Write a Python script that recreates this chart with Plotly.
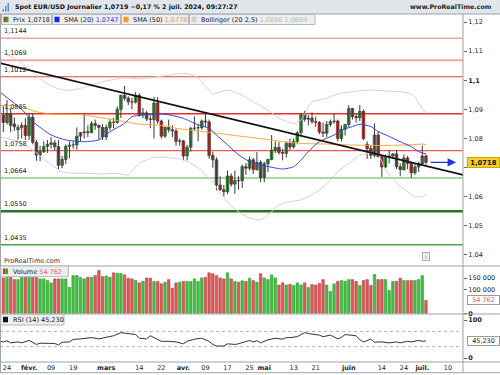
import numpy as np
import pandas as pd
import plotly.graph_objects as go

FONT = "DejaVu Sans"

# ---------------- data ----------------
first_day, last_day = "2024-01-23", "2024-07-02"
ref_day = "2024-01-24"  # trading day 0 of the horizontal scale

opens = [1.0880, 1.0855, 1.0885, 1.0850, 1.0830, 1.0838, 1.0845, 1.0810, 1.0873, 1.0787,
         1.0743, 1.0755, 1.0772, 1.0780, 1.0785, 1.0772, 1.0708, 1.0728, 1.0773, 1.0777,
         1.0778, 1.0808, 1.0820, 1.0823, 1.0820, 1.0851, 1.0845, 1.0838, 1.0805, 1.0838,
         1.0856, 1.0855, 1.0900, 1.0948, 1.0938, 1.0926, 1.0925, 1.0948, 1.0882, 1.0888,
         1.0867, 1.0865, 1.0922, 1.0860, 1.0808, 1.0838, 1.0830, 1.0826, 1.0790, 1.0792,
         1.0740, 1.0770, 1.0835, 1.0836, 1.0837, 1.0860, 1.0857, 1.0742, 1.0727, 1.0640,
         1.0624, 1.0617, 1.0671, 1.0643, 1.0656, 1.0655, 1.0703, 1.0698, 1.0727, 1.0693,
         1.0718, 1.0666, 1.0713, 1.0728, 1.0760, 1.0770, 1.0752, 1.0749, 1.0783, 1.0771,
         1.0790, 1.0820, 1.0881, 1.0866, 1.0870, 1.0858, 1.0855, 1.0822, 1.0818, 1.0848,
         1.0858, 1.0860, 1.0800, 1.0832, 1.0848, 1.0903, 1.0875, 1.0871, 1.0893, 1.0780,
         1.0765, 1.0742, 1.0812, 1.0738, 1.0702, 1.0735, 1.0740, 1.0747, 1.0703, 1.0693,
         1.0733, 1.0714, 1.0682, 1.0702, 1.0713, 1.0740]
highs = [1.0915, 1.0932, 1.0903, 1.0872, 1.0848, 1.0855, 1.0870, 1.0888, 1.0887, 1.0795,
         1.0775, 1.0790, 1.0795, 1.0805, 1.0795, 1.0795, 1.0740, 1.0780, 1.0790, 1.0790,
         1.0838, 1.0822, 1.0888, 1.0845, 1.0860, 1.0865, 1.0848, 1.0850, 1.0848, 1.0868,
         1.0870, 1.0910, 1.0950, 1.0981, 1.0945, 1.0940, 1.0960, 1.0955, 1.0905, 1.0895,
         1.0880, 1.0942, 1.0942, 1.0865, 1.0840, 1.0865, 1.0845, 1.0832, 1.0800, 1.0795,
         1.0778, 1.0840, 1.0876, 1.0850, 1.0865, 1.0885, 1.0865, 1.0755, 1.0735, 1.0670,
         1.0640, 1.0690, 1.0680, 1.0690, 1.0670, 1.0710, 1.0715, 1.0738, 1.0733, 1.0753,
         1.0725, 1.0720, 1.0730, 1.0812, 1.0790, 1.0788, 1.0765, 1.0790, 1.0800, 1.0800,
         1.0825, 1.0888, 1.0895, 1.0880, 1.0890, 1.0875, 1.0860, 1.0855, 1.0860, 1.0865,
         1.0885, 1.0865, 1.0845, 1.0850, 1.0915, 1.0905, 1.0885, 1.0915, 1.0900, 1.0790,
         1.0775, 1.0852, 1.0825, 1.0740, 1.0745, 1.0760, 1.0750, 1.0760, 1.0715, 1.0745,
         1.0740, 1.0720, 1.0715, 1.0720, 1.0776, 1.0745]
lows = [1.0822, 1.0848, 1.0822, 1.0825, 1.0796, 1.0800, 1.0795, 1.0795, 1.0780, 1.0723,
        1.0722, 1.0750, 1.0750, 1.0765, 1.0760, 1.0695, 1.0698, 1.0713, 1.0732, 1.0765,
        1.0762, 1.0790, 1.0800, 1.0805, 1.0818, 1.0830, 1.0795, 1.0795, 1.0795, 1.0828,
        1.0835, 1.0850, 1.0870, 1.0930, 1.0915, 1.0900, 1.0920, 1.0875, 1.0870, 1.0860,
        1.0835, 1.0800, 1.0850, 1.0800, 1.0802, 1.0820, 1.0805, 1.0775, 1.0775, 1.0725,
        1.0725, 1.0755, 1.0825, 1.0790, 1.0830, 1.0840, 1.0730, 1.0700, 1.0622, 1.0620,
        1.0601, 1.0610, 1.0635, 1.0610, 1.0625, 1.0630, 1.0675, 1.0690, 1.0678, 1.0690,
        1.0650, 1.0650, 1.0685, 1.0725, 1.0750, 1.0745, 1.0725, 1.0735, 1.0760, 1.0765,
        1.0780, 1.0808, 1.0858, 1.0845, 1.0850, 1.0840, 1.0815, 1.0805, 1.0805, 1.0840,
        1.0850, 1.0790, 1.0790, 1.0810, 1.0840, 1.0865, 1.0855, 1.0860, 1.0795, 1.0730,
        1.0730, 1.0735, 1.0735, 1.0668, 1.0698, 1.0715, 1.0730, 1.0695, 1.0670, 1.0690,
        1.0695, 1.0665, 1.0675, 1.0685, 1.0710, 1.0710]
closes = [1.0855, 1.0885, 1.0845, 1.0840, 1.0838, 1.0845, 1.0810, 1.0873, 1.0787, 1.0743,
          1.0755, 1.0772, 1.0780, 1.0785, 1.0772, 1.0708, 1.0728, 1.0773, 1.0777, 1.0778,
          1.0808, 1.0820, 1.0823, 1.0820, 1.0851, 1.0845, 1.0838, 1.0805, 1.0838, 1.0856,
          1.0855, 1.0900, 1.0948, 1.0938, 1.0926, 1.0925, 1.0948, 1.0882, 1.0888, 1.0867,
          1.0865, 1.0922, 1.0860, 1.0808, 1.0838, 1.0830, 1.0826, 1.0790, 1.0792, 1.0740,
          1.0770, 1.0835, 1.0836, 1.0837, 1.0860, 1.0857, 1.0742, 1.0727, 1.0640, 1.0624,
          1.0617, 1.0671, 1.0643, 1.0656, 1.0655, 1.0703, 1.0698, 1.0727, 1.0693, 1.0718,
          1.0666, 1.0713, 1.0728, 1.0760, 1.0770, 1.0752, 1.0749, 1.0783, 1.0771, 1.0790,
          1.0820, 1.0881, 1.0866, 1.0870, 1.0858, 1.0855, 1.0822, 1.0818, 1.0848, 1.0858,
          1.0860, 1.0800, 1.0832, 1.0848, 1.0903, 1.0875, 1.0871, 1.0893, 1.0800, 1.0765,
          1.0742, 1.0812, 1.0738, 1.0702, 1.0735, 1.0740, 1.0747, 1.0703, 1.0693, 1.0733,
          1.0714, 1.0682, 1.0702, 1.0713, 1.0740, 1.0718]
volumes_k = [151, 154, 154, 144, 144, 154, 154, 154, 154, 154, 147,
             147, 140, 130, 147, 147, 147, 147, 111, 161, 161,
             154, 147, 154, 154, 161, 183, 157, 159, 154, 173,
             171, 170, 164, 150, 147, 140, 130, 137, 151, 150,
             136, 136, 126, 133, 144, 107, 130, 133, 136, 136,
             136, 147, 136, 151, 154, 173, 169, 161, 151, 147,
             173, 147, 136, 133, 139,
             136, 150, 140,
             133, 169, 151, 144, 164, 151, 121, 130, 121, 124,
             119, 130, 121, 130, 110, 123, 121, 127, 144, 121,
             93, 126, 137, 140, 137, 144, 144, 136, 119, 140,
             144, 119, 166, 144, 144, 144, 97, 136, 137, 150,
             140, 140, 140, 140, 144, 161, 54.762]

# indicator lines (trading day, value)
sma20_day = [-2, 4, 7, 12, 16, 21, 25, 28, 32, 34, 38, 42, 45, 48, 52, 55, 57, 60, 63, 66,
             71, 75, 78, 80, 82, 85, 89, 91, 94, 96, 99, 101, 104, 107, 110, 112, 114]
sma20_val = [1.0960, 1.0900, 1.0858, 1.0812, 1.0795, 1.0789, 1.0795, 1.0823, 1.0852, 1.0875,
             1.0881, 1.0884, 1.0879, 1.0869, 1.0847, 1.0835, 1.0812, 1.0778, 1.0744, 1.0721,
             1.0704, 1.0695, 1.0703, 1.0726, 1.0755, 1.0789, 1.0812, 1.0829, 1.0841, 1.0849,
             1.0841, 1.0824, 1.0807, 1.0789, 1.0772, 1.0755, 1.0747]
sma50_day = [-2, 2, 5, 8, 12, 16, 21, 25, 29, 33, 36, 40, 44, 46, 50, 53, 57, 61, 64, 68,
             72, 75, 79, 82, 87, 90, 96, 101, 107, 111, 113, 114]
sma50_val = [1.0913, 1.0913, 1.0904, 1.0892, 1.0884, 1.0883, 1.0881, 1.0872, 1.0864, 1.0856,
             1.0849, 1.0847, 1.0841, 1.0835, 1.0829, 1.0824, 1.0818, 1.0812, 1.0807, 1.0801,
             1.0795, 1.0789, 1.0784, 1.0782, 1.0781, 1.0779, 1.0777, 1.0776, 1.0777, 1.0779,
             1.0781, 1.0778]
bbu_day = [-2, 2, 6, 10, 13, 16, 20, 24, 28, 32, 36, 40, 44, 48, 50, 52, 55, 56, 60, 63,
           67, 71, 74, 78, 80, 82, 83, 87, 88, 91, 96, 99, 106, 109, 111, 112, 114]
bbu_val = [1.1100, 1.1075, 1.1040, 1.0995, 1.0975, 1.0965, 1.0972, 1.0988, 1.1000, 1.1008,
           1.1005, 1.1010, 1.1018, 1.1024, 1.1020, 1.1007, 1.0966, 1.0953, 1.0966, 1.0955,
           1.0926, 1.0898, 1.0869, 1.0852, 1.0863, 1.0909, 1.0926, 1.0938, 1.0944, 1.0955,
           1.0964, 1.0966, 1.0961, 1.0957, 1.0944, 1.0921, 1.0886]
bbl_day = [-2, 3, 7, 11, 15, 18, 22, 26, 30, 33, 36, 38, 40, 44, 48, 52, 56, 58, 61, 64,
           66, 69, 71, 74, 77, 80, 82, 85, 88, 90, 93, 96, 99, 101, 103, 106, 109, 111, 113, 114]
bbl_val = [1.0805, 1.0790, 1.0760, 1.0720, 1.0685, 1.0681, 1.0680, 1.0678, 1.0680, 1.0675,
           1.0716, 1.0726, 1.0735, 1.0735, 1.0726, 1.0700, 1.0650, 1.0613, 1.0570, 1.0540,
           1.0527, 1.0520, 1.0537, 1.0571, 1.0583, 1.0589, 1.0600, 1.0623, 1.0657, 1.0686,
           1.0715, 1.0743, 1.0750, 1.0745, 1.0692, 1.0647, 1.0617, 1.0600, 1.0600, 1.0609]
rsi_day = [-2, -1, 0, 1, 3, 4, 6, 7, 8, 9, 12, 13, 14, 15, 17, 18, 20, 22, 23, 25,
           27, 28, 29, 31, 32, 33, 35, 36, 38, 39, 41, 42, 44, 46, 48, 49, 51, 52, 53, 55,
           56, 57, 59, 60, 62, 63, 65, 66, 67, 68, 69, 71, 72, 73, 75, 76, 77, 79, 80, 81,
           82, 83, 85, 86, 87, 88, 90, 91, 92, 94, 95, 96, 97, 99, 100, 101, 102, 104, 106, 107,
           109, 110, 111, 112, 113, 114]
rsi_val = [43.9, 42.3, 45.5, 39.8, 42.3, 39.8, 46.3, 41.4, 35.7, 39.0,
           39.8, 38.2, 34.1, 41.4, 42.3, 48.8, 50.4, 52.0, 53.7, 50.4,
           55.3, 56.1, 58.6, 66.7, 65.9, 64.3, 61.8, 52.0, 50.4, 58.6,
           48.0, 43.9, 43.9, 42.3, 37.4, 43.9, 49.6, 50.4, 52.0, 43.9,
           35.7, 31.6, 31.6, 37.4, 35.7, 37.4, 43.9, 46.3, 42.3, 45.5,
           39.8, 48.0, 49.6, 52.0, 49.6, 53.7, 53.7, 56.1, 61.8, 66.7,
           64.3, 63.5, 60.2, 56.1, 58.6, 60.2, 50.4, 54.5, 61.8, 58.6,
           58.6, 48.0, 42.3, 49.6, 41.4, 42.3, 42.3, 39.8, 42.3, 39.8,
           43.9, 42.3, 43.9, 46.3, 43.9, 45.2]

levels = [1.1144, 1.1069, 1.1012, 1.0885, 1.0758, 1.0664, 1.0550, 1.0435]
level_labels = ["1,1144", "1,1069", "1,1012", "1,0885", "1,0758", "1,0664", "1,0550", "1,0435"]
level_colors = ["#f5a3a3", "#f5a3a3", "#e8413c", "#e8302b", "#e8302b", "#a8d8a8", "#1f7a1f", "#4f9f4f"]
level_widths = [1.6, 2.0, 1.0, 1.4, 1.0, 2.0, 2.6, 1.5]

trend_day = [-2.0, 124.1]
trend_val = [1.1059, 1.0675]

# 1,07 is hidden behind the last-price box in the reference
price_ticks = [1.04, 1.05, 1.06, 1.07, 1.08, 1.09, 1.10, 1.11, 1.12]
price_tick_text = ["1,04", "1,05", "1,06", "", "1,08", "1,09", "<b>1,1</b>", "1,11", "1,12"]
vol_ticks = [0, 100000, 150000]
vol_tick_text = ["<b>0</b>", "100 000", "150 000"]
rsi_ticks = [0, 100]
rsi_tick_text = ["<b>0</b>", "<b>100</b>"]
rsi_levels = [30, 70]

tick_dates = ["2024-01-24", "2024-02-01", "2024-02-09", "2024-02-19", "2024-03-01", "2024-03-14",
              "2024-03-22", "2024-04-01", "2024-04-09", "2024-04-17", "2024-04-25", "2024-05-01",
              "2024-05-13", "2024-05-21", "2024-06-03", "2024-06-14", "2024-06-24", "2024-07-01",
              "2024-07-10"]
tick_text = ["24", "<b>févr.</b>", "09", "19", "<b>mars</b>", "14", "22", "<b>avr.</b>", "09",
             "17", "25", "<b>mai</b>", "13", "21", "<b>juin</b>", "14", "24", "<b>juil.</b>", "10"]

last_price_label = "1,0718"
sma20_label = "1,0747"
sma50_label = "1,0778"
boll_label = "1,0886 1,0609"
volume_label = "54 762"
rsi_label = "45,230"
title_text = "Spot EUR/USD Journalier 1,0719 \u22120,17 % 2 juil. 2024, 09:27:27"

# ---------------- derived ----------------
dates = pd.bdate_range(first_day, last_day).values.astype("datetime64[D]")
days = np.busday_count(np.datetime64(ref_day), dates)
tick_days = np.busday_count(np.datetime64(ref_day), np.array(tick_dates, dtype="datetime64[D]"))
o = np.array(opens); h = np.array(highs); l = np.array(lows); c = np.array(closes)
up = c >= o
vols = np.array(volumes_k) * 1000

# pixel layout helpers (plot area x 0..463, y 14..362)
PLOT_W, PLOT_TOP, PLOT_BOT = 463.0, 14.0, 362.0
def PX(xp):
    return xp / PLOT_W
def PY(yp):
    return (PLOT_BOT - yp) / (PLOT_BOT - PLOT_TOP)

X0_PX, PX_PER_DAY = 7.0, 3.675
x_range = [(0 - X0_PX) / PX_PER_DAY, (PLOT_W - X0_PX) / PX_PER_DAY]

fig = go.Figure()

# wicks
wx, wy = [], []
for d, hi, lo in zip(days, h, l):
    wx += [d, d, None]
    wy += [lo, hi, None]
fig.add_trace(go.Scatter(x=wx, y=wy, mode="lines", line=dict(color="#3a3a3a", width=1),
                         hoverinfo="skip", xaxis="x", yaxis="y"))
# bodies
body_col = np.where(up, "#22b822", "#e8231d")
fig.add_trace(go.Bar(x=days, y=np.maximum(np.abs(c - o), 0.00006), base=np.minimum(o, c),
                     width=0.72, marker=dict(color=list(body_col), line=dict(color="#2b2b2b", width=0.6)),
                     xaxis="x", yaxis="y"))

# indicator lines
for dx, vy, col in [(bbu_day, bbu_val, "#d2d2d2"), (bbl_day, bbl_val, "#d2d2d2"),
                    (sma50_day, sma50_val, "#ffa63a"), (sma20_day, sma20_val, "#3445ea")]:
    fig.add_trace(go.Scatter(x=dx, y=vy, mode="lines", line=dict(color=col, width=1, shape="spline", smoothing=0.6),
                             xaxis="x", yaxis="y"))

# volume
vol_col = np.where(up, "#3fc23f", "#e05858")
vol_line = np.where(up, "#2b8f2b", "#a83a3a")
fig.add_trace(go.Bar(x=days, y=vols, width=0.7,
                     marker=dict(color=list(vol_col), line=dict(color=list(vol_line), width=0.5)),
                     xaxis="x2", yaxis="y2"))
# RSI
fig.add_trace(go.Scatter(x=rsi_day, y=rsi_val, mode="lines", line=dict(color="#333333", width=1),
                         xaxis="x3", yaxis="y3"))

shapes = []
ann = []
# support / resistance levels
for lv, lab, col, w in zip(levels, level_labels, level_colors, level_widths):
    shapes.append(dict(type="line", xref="paper", yref="y", x0=0, x1=1, y0=lv, y1=lv,
                       line=dict(color=col, width=w), layer="below"))
    ann.append(dict(xref="paper", yref="y", x=PX(2), y=lv, text=lab, showarrow=False,
                    xanchor="left", yanchor="bottom", yshift=1,
                    font=dict(family=FONT, size=6.5, color="#222")))
# trend line
shapes.append(dict(type="line", xref="x", yref="y", x0=trend_day[0], y0=trend_val[0],
                   x1=trend_day[1], y1=trend_val[1], line=dict(color="#111", width=1.8)))
# RSI guide lines
for rl in rsi_levels:
    shapes.append(dict(type="line", xref="paper", yref="y3", x0=0, x1=1, y0=rl, y1=rl,
                       line=dict(color="#a0a0a0", width=0.8, dash="3px,3px"), layer="below"))

# header
shapes.append(dict(type="rect", xref="paper", yref="paper", x0=PX(0), x1=PX(500), y0=PY(0), y1=PY(14),
                   fillcolor="#e0e6eb", line=dict(width=0)))
for (a, b, t) in [(2.5, 4.0, 9), (5.0, 6.5, 6), (7.5, 9.0, 3)]:
    shapes.append(dict(type="rect", xref="paper", yref="paper", x0=PX(a), x1=PX(b), y0=PY(11.5), y1=PY(t),
                       fillcolor="#4a8fd8", line=dict(width=0)))
ann.append(dict(xref="paper", yref="paper", x=PX(12.5), y=PY(7), text="<b>" + title_text + "</b>",
                showarrow=False, xanchor="left", yanchor="middle",
                font=dict(family=FONT, size=6.3, color="#111")))
ann.append(dict(xref="paper", yref="paper", x=PX(494), y=PY(7), text="<b>www.ProRealTime.com</b>",
                showarrow=False, xanchor="right", yanchor="middle",
                font=dict(family=FONT, size=6.3, color="#222")))

# frame lines
frame = "#9da3a8"
for yline, xend in [(14, 500), (266, 500), (314, 500), (362, 500), (372.7, 500)]:
    shapes.append(dict(type="line", xref="paper", yref="paper", x0=PX(0), x1=PX(xend),
                       y0=PY(yline), y1=PY(yline), line=dict(color=frame, width=1)))
for xline in [0.5, 463]:
    shapes.append(dict(type="line", xref="paper", yref="paper", x0=PX(xline), x1=PX(xline),
                       y0=PY(14), y1=PY(372.7), line=dict(color=frame, width=1)))

# legend boxes
def box(x0, x1, y0, y1):
    shapes.append(dict(type="rect", xref="paper", yref="paper", x0=PX(x0), x1=PX(x1), y0=PY(y0), y1=PY(y1),
                       fillcolor="#eceef0", line=dict(color="#b5b9bd", width=1)))
def square(x0, y0, col):
    shapes.append(dict(type="rect", xref="paper", yref="paper", x0=PX(x0), x1=PX(x0 + 5), y0=PY(y0), y1=PY(y0 + 5.5),
                       fillcolor=col, line=dict(width=0)))
def split_square(x0, y0):
    shapes.append(dict(type="rect", xref="paper", yref="paper", x0=PX(x0), x1=PX(x0 + 2.5), y0=PY(y0), y1=PY(y0 + 5.5),
                       fillcolor="#d8312b", line=dict(width=0)))
    shapes.append(dict(type="rect", xref="paper", yref="paper", x0=PX(x0 + 2.5), x1=PX(x0 + 5), y0=PY(y0), y1=PY(y0 + 5.5),
                       fillcolor="#2caa2c", line=dict(width=0)))
def label(x, y, text, color="#222"):
    ann.append(dict(xref="paper", yref="paper", x=PX(x), y=PY(y), text=text, showarrow=False,
                    xanchor="left", yanchor="middle", font=dict(family=FONT, size=6.5, color=color)))

box(1.5, 51.5, 14.5, 24.5); split_square(3.5, 16.7); label(10.5, 19.6, "Prix " + last_price_label)
box(52.5, 120.5, 14.5, 24.5); square(54.5, 16.7, "#1f22e6")
label(62, 19.6, "SMA (20) <span style='color:#2a35e8'>" + sma20_label + "</span>")
box(121.5, 188.5, 14.5, 24.5); square(123.5, 16.7, "#ff9a1f")
label(131, 19.6, "SMA (50) <span style='color:#f39a2a'>" + sma50_label + "</span>")
box(189.5, 315, 14.5, 24.5); square(191.5, 16.7, "#cfcfcf")
label(199, 19.6, "Bollinger (20 2,5) <span style='color:#b9b9b9'>" + boll_label + "</span>")

label(2, 261, "ProRealTime.com", "#333")
box(0.7, 68.3, 266, 276.7); split_square(3, 268.5)
label(10.5, 271.5, "Volume <span style='color:#e06262'>" + volume_label + "</span>")
box(0.7, 64, 314.3, 325); square(3, 316.8, "#111")
label(10.5, 319.8, "RSI (14) " + rsi_label)

# info icon
ann.append(dict(xref="paper", yref="paper", x=PX(425.5), y=PY(256.5), text="i", showarrow=False,
                xanchor="center", yanchor="middle",
                font=dict(family=FONT, size=6, color="#888"), bgcolor="#f2f2f2",
                bordercolor="#b0b0b0", borderwidth=1, borderpad=0, width=6, height=7))

# last price arrow and right-axis boxes
last_day_num = days[-1]
ann.append(dict(xref="x", yref="y", x=last_day_num + 8.2, y=closes[-1], ax=-27, ay=0,
                showarrow=True, arrowhead=2, arrowsize=1.3, arrowwidth=1.3, arrowcolor="#2233dd", text=""))
ann.append(dict(xref="paper", yref="y", x=PX(483.5), y=closes[-1], text="<b>" + last_price_label + "</b>",
                showarrow=False, xanchor="center", yanchor="middle",
                bgcolor="#f7cf2c", bordercolor="#d2a400", borderwidth=1, borderpad=0,
                width=31, height=9, font=dict(family=FONT, size=6.8, color="#111")))
ann.append(dict(xref="paper", yref="y2", x=PX(483.5), y=vols[-1], text=volume_label,
                showarrow=False, xanchor="center", yanchor="middle",
                bgcolor="#ffffff", bordercolor="#9a9a9a", borderwidth=1, borderpad=0,
                width=31, height=8, font=dict(family=FONT, size=6.5, color="#e06060")))
ann.append(dict(xref="paper", yref="y3", x=PX(483.5), y=rsi_val[-1], text=rsi_label,
                showarrow=False, xanchor="center", yanchor="middle",
                bgcolor="#ffffff", bordercolor="#9a9a9a", borderwidth=1, borderpad=0,
                width=31, height=8, font=dict(family=FONT, size=6.5, color="#222")))

tickfont = dict(family=FONT, size=6.5, color="#222")
yax_common = dict(side="right", showgrid=False, zeroline=False, ticks="outside", ticklen=3,
                  tickcolor="#666", tickfont=tickfont, fixedrange=True)
fig.update_layout(
    width=500, height=375, autosize=False,
    margin=dict(l=0, r=37, t=14, b=13, pad=0),
    paper_bgcolor="white", plot_bgcolor="white",
    showlegend=False, barmode="overlay", hovermode=False,
    xaxis=dict(domain=[0, 1], range=x_range, anchor="y", showticklabels=False, showgrid=False,
               zeroline=False, ticks=""),
    xaxis2=dict(domain=[0, 1], matches="x", anchor="y2", showticklabels=False, showgrid=False,
                zeroline=False, ticks=""),
    xaxis3=dict(domain=[0, 1], matches="x", anchor="y3", showgrid=False, zeroline=False, ticks="",
                tickmode="array", tickvals=list(tick_days), ticktext=tick_text, tickfont=tickfont),
    yaxis=dict(domain=[PY(266), 1], range=[1.036209, 1.122747], tickmode="array",
               tickvals=price_ticks, ticktext=price_tick_text, **yax_common),
    yaxis2=dict(domain=[PY(314), PY(266)], range=[-3000, 202000], tickmode="array",
                tickvals=vol_ticks, ticktext=vol_tick_text, **yax_common),
    yaxis3=dict(domain=[0, PY(314)], range=[-10.5, 115.8], tickmode="array",
                tickvals=rsi_ticks, ticktext=rsi_tick_text, **yax_common),
    shapes=shapes, annotations=ann,
)

fig.write_html("out.html", config={"displayModeBar": False},
               post_script="document.body.style.margin='0';document.body.style.padding='0';")
